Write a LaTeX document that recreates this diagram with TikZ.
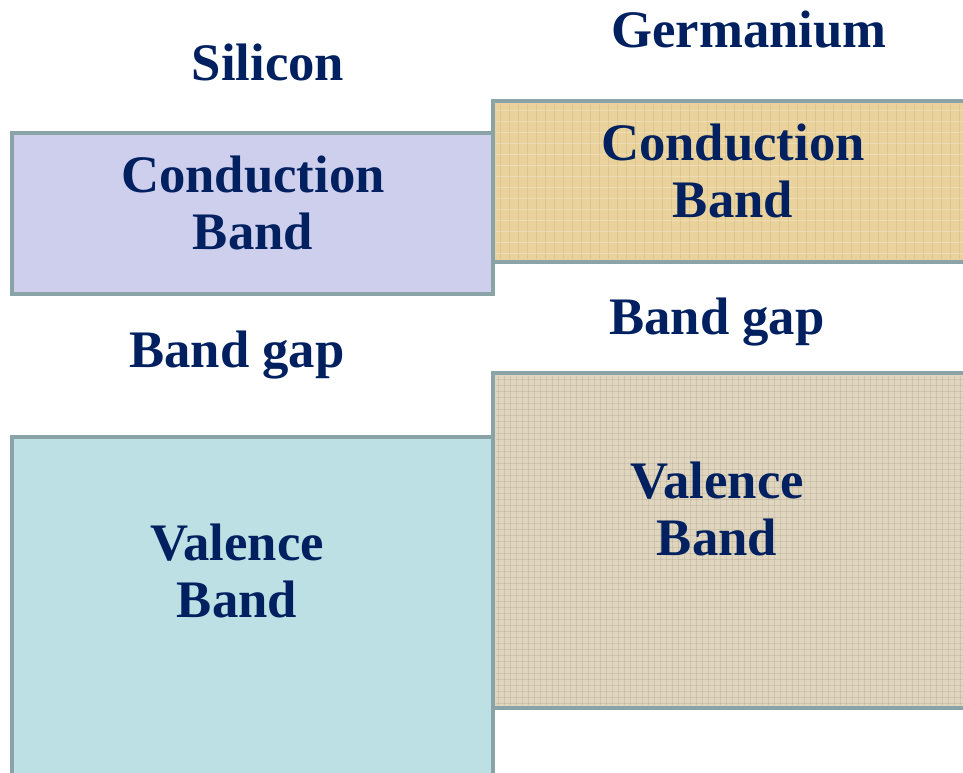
\documentclass[tikz,border=0pt]{standalone}
\usepackage{fontspec}
\setmainfont{Liberation Serif}
\usepackage{xcolor}
\definecolor{bandtext}{RGB}{0,32,96}
\definecolor{bandedge}{RGB}{138,163,166}
\definecolor{siconduct}{RGB}{206,206,237}
\definecolor{sivalence}{RGB}{188,224,227}
\definecolor{geconduct}{RGB}{233,210,155}
\definecolor{gevalence}{RGB}{224,214,192}
\definecolor{geweave}{RGB}{170,158,135}
\definecolor{gestreak}{RGB}{205,175,110}

\begin{document}
\begin{tikzpicture}[x=0.02cm,y=-0.02cm,
  bandlabel/.style={font=\fontsize{30}{32.5}\selectfont\bfseries,text=bandtext,align=center,inner sep=0pt},
  bandbox/.style={draw=bandedge,line width=2.8pt}]
\useasboundingbox (0,0) rectangle (963,773);
\clip (0,0) rectangle (963,773);
% silicon bands
\draw[bandbox,fill=siconduct] (12,133) rectangle (493,294);
\draw[bandbox,fill=sivalence] (12,437) rectangle (493,790);
% germanium bands, textured
\fill[geconduct] (493,101) rectangle (980,262);
\foreach \x in {500,509,...,960}
  \draw[gestreak,opacity=0.35,line width=0.5pt] (\x,104) -- (\x,259);
\foreach \y in {110,121,...,255}
  \draw[white,opacity=0.25,line width=0.5pt] (496,\y) -- (963,\y);
\draw[bandbox] (493,101) rectangle (980,262);
\fill[gevalence] (493,373) rectangle (980,708);
\foreach \x in {498,504,...,960}
  \draw[geweave,opacity=0.3,line width=0.4pt] (\x,376) -- (\x,705);
\foreach \y in {379,385,...,703}
  \draw[geweave,opacity=0.3,line width=0.4pt] (496,\y) -- (963,\y);
\draw[bandbox] (493,373) rectangle (980,708);
% labels
\node[bandlabel] (silicon) at (268,62) {Silicon};
\node[bandlabel] (germanium) at (749,30) {Germanium};
\node[bandlabel] (siCB) at (253,203) {Conduction\\Band};
\node[bandlabel] (geCB) at (733,171) {Conduction\\Band};
\node[bandlabel,anchor=base] (siGap) at (237,367) {Band gap};
\node[bandlabel,anchor=base] (geGap) at (717,335) {Band gap};
\node[bandlabel] (siVB) at (237,571) {Valence\\Band};
\node[bandlabel] (geVB) at (717,509) {Valence\\Band};
\end{tikzpicture}
\end{document}
